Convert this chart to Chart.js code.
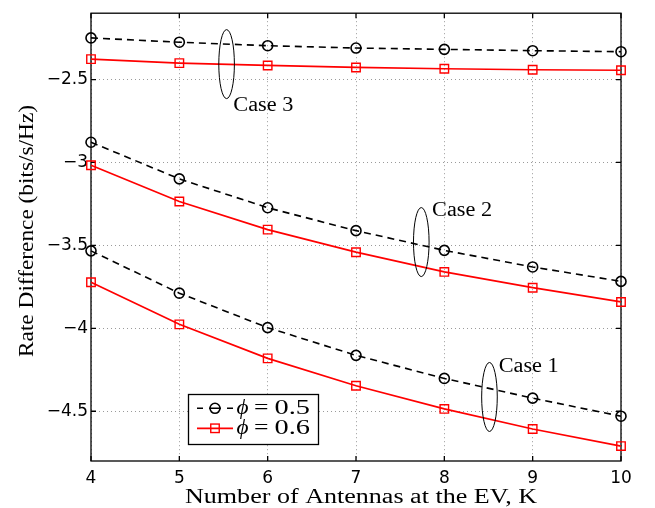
<!DOCTYPE html>
<html>
<head>
<meta charset="utf-8">
<script src="https://cdn.jsdelivr.net/npm/chart.js@4.4.1/dist/chart.umd.min.js"></script>
<style>
  html, body { margin: 0; padding: 0; background: #fff; }
  #wrap { width: 655px; height: 508px; }
</style>
</head>
<body>
<div id="wrap"><canvas id="rateChart" width="655" height="508"></canvas></div>
<script>
// number of antennas at the EV
const antennas = [4, 5, 6, 7, 8, 9, 10];
const xTicks = [4, 5, 6, 7, 8, 9, 10];
const yTicks = [-4.5, -4, -3.5, -3, -2.5];

// rate difference (bits/s/Hz) per case, for phi = 0.5 and phi = 0.6
const case1Phi05 = [-3.533, -3.788, -3.996, -4.163, -4.302, -4.421, -4.530];
const case1Phi06 = [-3.722, -3.976, -4.181, -4.346, -4.486, -4.607, -4.710];
const case2Phi05 = [-2.878, -3.099, -3.273, -3.411, -3.530, -3.630, -3.717];
const case2Phi06 = [-3.017, -3.235, -3.405, -3.541, -3.660, -3.755, -3.841];
const case3Phi05 = [-2.249, -2.275, -2.296, -2.310, -2.318, -2.326, -2.332];
const case3Phi06 = [-2.377, -2.401, -2.415, -2.427, -2.435, -2.441, -2.444];

const phiValues = ['0.5', '0.6'];
const caseNames = ['Case 1', 'Case 2', 'Case 3'];
// ellipse centres and label anchors, in axis units
const ellipseCenters = [[8.511, -4.414], [7.739, -3.480], [5.535, -2.407]];
const caseLabelAnchors = [[8.615, -4.265], [7.861, -3.322], [5.611, -2.687]];

const SERIF = '"Liberation Serif", "DejaVu Serif", serif';

function toPoints(values) {
    return antennas.map((k, i) => ({ x: k, y: values[i] }));
}

const dashedStyle = {
    borderColor: '#000',
    borderWidth: 1.6,
    borderDash: [7, 5],
    pointStyle: 'circle',
    pointRadius: 5,
    pointHoverRadius: 5,
    pointBorderWidth: 1.6,
    pointBorderColor: '#000',
    pointBackgroundColor: 'rgba(0,0,0,0)',
    tension: 0,
    clip: false
};
const solidStyle = {
    borderColor: '#ff0000',
    borderWidth: 1.7,
    pointStyle: 'rect',
    pointRadius: 6,
    pointHoverRadius: 6,
    pointBorderWidth: 1.4,
    pointBorderColor: '#ff0000',
    pointBackgroundColor: 'rgba(0,0,0,0)',
    tension: 0,
    clip: false
};

// stretch a string horizontally so it spans the given width
function fitText(ctx, text, x, y, width) {
    const w = ctx.measureText(text).width;
    ctx.save();
    ctx.translate(x, y);
    ctx.scale(width / w, 1);
    ctx.textAlign = 'left';
    ctx.textBaseline = 'alphabetic';
    ctx.fillText(text, 0, 0);
    ctx.restore();
}

const figurePlugin = {
    id: 'figure',
    beforeDatasetsDraw(chart) {
        const { ctx, chartArea: a, scales } = chart;
        ctx.save();
        ctx.strokeStyle = '#000';
        ctx.lineWidth = 1.3;
        ctx.strokeRect(a.left, a.top, a.right - a.left, a.bottom - a.top);
        ctx.beginPath();
        const tick = 5;
        xTicks.forEach(v => {
            const px = scales.x.getPixelForValue(v);
            ctx.moveTo(px, a.bottom); ctx.lineTo(px, a.bottom - tick);
            ctx.moveTo(px, a.top); ctx.lineTo(px, a.top + tick);
        });
        yTicks.forEach(v => {
            const py = scales.y.getPixelForValue(v);
            ctx.moveTo(a.left, py); ctx.lineTo(a.left + tick, py);
            ctx.moveTo(a.right, py); ctx.lineTo(a.right - tick, py);
        });
        ctx.stroke();
        ctx.restore();
    },
    afterDraw(chart) {
        const { ctx, scales } = chart;
        ctx.save();
        ctx.fillStyle = '#000';
        ctx.strokeStyle = '#000';

        // case ellipses and their labels
        ctx.lineWidth = 1;
        ellipseCenters.forEach(([cx, cy]) => {
            ctx.beginPath();
            ctx.ellipse(scales.x.getPixelForValue(cx), scales.y.getPixelForValue(cy), 7.8, 34.5, 0, 0, Math.PI * 2);
            ctx.stroke();
        });
        ctx.font = '20px ' + SERIF;
        caseLabelAnchors.forEach(([lx, ly], i) => {
            fitText(ctx, caseNames[i], scales.x.getPixelForValue(lx), scales.y.getPixelForValue(ly), 60);
        });

        // axis titles
        ctx.font = '20px ' + SERIF;
        fitText(ctx, 'Number of Antennas at the EV, K', 185, 503, 352);
        ctx.save();
        ctx.translate(33, 357);
        ctx.rotate(-Math.PI / 2);
        fitText(ctx, 'Rate Difference (bits/s/Hz)', 0, 0, 252);
        ctx.restore();

        // legend
        const bx = 188.5, by = 394.5, bw = 130, bh = 50;
        ctx.fillStyle = '#fff';
        ctx.fillRect(bx, by, bw, bh);
        ctx.lineWidth = 1.3;
        ctx.strokeRect(bx, by, bw, bh);
        const rows = [408.3, 428.3];
        const x0 = 197, x1 = 233, xm = 215;

        // phi = 0.5 sample
        ctx.strokeStyle = '#000';
        ctx.lineWidth = 1.6;
        ctx.beginPath();
        [[x0, x0 + 6], [xm - 6, xm + 6], [x1 - 6, x1]].forEach(([s, e]) => {
            ctx.moveTo(s, rows[0]); ctx.lineTo(e, rows[0]);
        });
        ctx.stroke();
        ctx.beginPath();
        ctx.arc(xm, rows[0], 5, 0, Math.PI * 2);
        ctx.stroke();

        // phi = 0.6 sample
        ctx.strokeStyle = '#ff0000';
        ctx.lineWidth = 1.7;
        ctx.beginPath();
        ctx.moveTo(x0, rows[1]); ctx.lineTo(x1, rows[1]);
        ctx.stroke();
        ctx.lineWidth = 1.4;
        const half = 6 * Math.SQRT1_2;
        ctx.strokeRect(xm - half, rows[1] - half, half * 2, half * 2);

        ctx.fillStyle = '#000';
        phiValues.forEach((v, i) => {
            const base = rows[i] + 6;
            ctx.font = 'italic 20px ' + SERIF;
            fitText(ctx, '\u03D5', 236.5, base, 12);
            ctx.font = '20px ' + SERIF;
            fitText(ctx, '=', 254, base, 14.5);
            fitText(ctx, v, 274.5, base, 35.5);
        });
        ctx.restore();
    }
};

const ctx = document.getElementById('rateChart').getContext('2d');
const rateChart = new Chart(ctx, {
    type: 'line',
    data: {
        datasets: [
            Object.assign({ label: 'phi = 0.5, case 1', data: toPoints(case1Phi05) }, dashedStyle),
            Object.assign({ label: 'phi = 0.6, case 1', data: toPoints(case1Phi06) }, solidStyle),
            Object.assign({ label: 'phi = 0.5, case 2', data: toPoints(case2Phi05) }, dashedStyle),
            Object.assign({ label: 'phi = 0.6, case 2', data: toPoints(case2Phi06) }, solidStyle),
            Object.assign({ label: 'phi = 0.5, case 3', data: toPoints(case3Phi05) }, dashedStyle),
            Object.assign({ label: 'phi = 0.6, case 3', data: toPoints(case3Phi06) }, solidStyle)
        ]
    },
    options: {
        responsive: false,
        devicePixelRatio: 1,
        animation: false,
        events: [],
        layout: {
            autoPadding: false,
            padding: { left: 0, right: 34, top: 6, bottom: 0 }
        },
        plugins: {
            legend: { display: false },
            tooltip: { enabled: false },
            title: { display: false }
        },
        scales: {
            x: {
                type: 'linear',
                min: 4,
                max: 10,
                afterBuildTicks: scale => { scale.ticks = xTicks.map(v => ({ value: v })); },
                afterFit: scale => { scale.height = 47; },
                grid: { color: '#9a9a9a', lineWidth: 1, drawTicks: false },
                border: { display: false, dash: [1, 3] },
                ticks: {
                    padding: 7,
                    color: '#000',
                    font: { family: '"DejaVu Sans", sans-serif', size: 17 },
                    callback: v => String(v)
                }
            },
            y: {
                type: 'linear',
                min: -4.8,
                max: -2.1,
                afterBuildTicks: scale => { scale.ticks = yTicks.map(v => ({ value: v })); },
                afterFit: scale => { scale.width = 91; },
                grid: { color: '#9a9a9a', lineWidth: 1, drawTicks: false },
                border: { display: false, dash: [1, 3] },
                ticks: {
                    padding: 3,
                    color: '#000',
                    font: { family: '"DejaVu Sans", sans-serif', size: 17 },
                    callback: v => (v < 0 ? '\u2212' : '') + Math.abs(v)
                }
            }
        }
    },
    plugins: [figurePlugin]
});
</script>
</body>
</html>
